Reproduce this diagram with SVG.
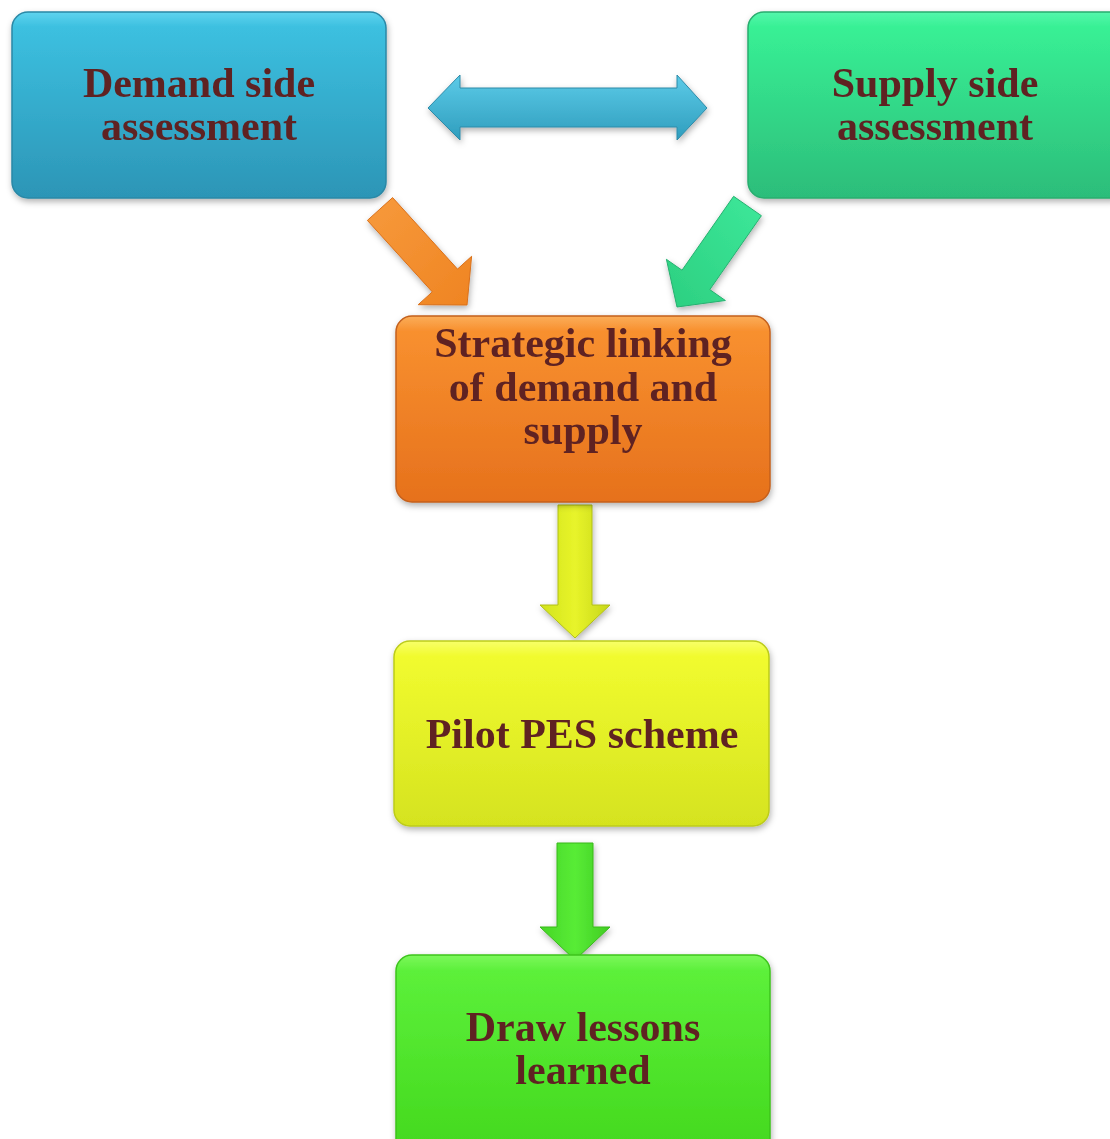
<svg xmlns="http://www.w3.org/2000/svg" width="1110" height="1139" viewBox="0 0 1110 1139">
<style>
.lbl{font-family:"Liberation Serif","Times New Roman",serif;font-weight:bold;font-size:42px;fill:#5f2423;text-anchor:middle}
.box{filter:url(#sh)}
.box rect{stroke-width:1.5}
</style>
<defs>
<filter id="sh" x="-10%" y="-10%" width="125%" height="130%">
<feDropShadow dx="1" dy="3" stdDeviation="3" flood-color="#000" flood-opacity="0.3"/>
</filter>
<linearGradient id="gBlue" x1="0" y1="0" x2="0" y2="1"><stop offset="0" stop-color="#5fd4ef"/><stop offset="0.08" stop-color="#3cc0e0"/><stop offset="1" stop-color="#2c95b6"/></linearGradient>
<linearGradient id="gTeal" x1="0" y1="0" x2="0" y2="1"><stop offset="0" stop-color="#55f7ac"/><stop offset="0.08" stop-color="#38f095"/><stop offset="1" stop-color="#2cbd7a"/></linearGradient>
<linearGradient id="gOrange" x1="0" y1="0" x2="0" y2="1"><stop offset="0" stop-color="#fbae5a"/><stop offset="0.08" stop-color="#f8902f"/><stop offset="1" stop-color="#e6711c"/></linearGradient>
<linearGradient id="gYellow" x1="0" y1="0" x2="0" y2="1"><stop offset="0" stop-color="#f8ff6a"/><stop offset="0.08" stop-color="#f1fb2f"/><stop offset="1" stop-color="#d5e31f"/></linearGradient>
<linearGradient id="gGreen" x1="0" y1="0" x2="0" y2="1"><stop offset="0" stop-color="#7cf85c"/><stop offset="0.08" stop-color="#5cf03a"/><stop offset="1" stop-color="#43d81d"/></linearGradient>
<linearGradient id="aBlue" x1="0" y1="0" x2="0" y2="1"><stop offset="0" stop-color="#5ccbe8"/><stop offset="1" stop-color="#2f9dbd"/></linearGradient>
<linearGradient id="aOrange" x1="0" y1="0" x2="1" y2="1"><stop offset="0" stop-color="#f79a3c"/><stop offset="1" stop-color="#ef8422"/></linearGradient>
<linearGradient id="aTeal" x1="1" y1="0" x2="0" y2="1"><stop offset="0" stop-color="#3de89a"/><stop offset="1" stop-color="#2ccf80"/></linearGradient>
<linearGradient id="aYellow" x1="0" y1="0" x2="1" y2="0"><stop offset="0" stop-color="#d2e31c"/><stop offset="0.5" stop-color="#e8f42a"/><stop offset="1" stop-color="#c6d61a"/></linearGradient>
<linearGradient id="aGreen" x1="0" y1="0" x2="1" y2="0"><stop offset="0" stop-color="#46d626"/><stop offset="0.5" stop-color="#58ec36"/><stop offset="1" stop-color="#40cc22"/></linearGradient>
</defs>
<g id="connectors" filter="url(#sh)">
<polygon points="428,108 460,75 460,88 677,88 677,75 707,108 677,140 677,127 460,127 460,140" fill="url(#aBlue)" stroke="#2d8aa8" stroke-width="1"/>
<polygon points="392.6,197.6 457.5,269.1 471.6,256.3 467,305 418.2,304.7 432.3,291.9 367.4,220.4" fill="url(#aOrange)" stroke="#d9701a" stroke-width="1"/>
<polygon points="733.6,196.3 761.4,215.7 709.8,289.6 725.4,300.5 677,307 666.4,259.3 682,270.2" fill="url(#aTeal)" stroke="#27b070" stroke-width="1"/>
<polygon points="558,505 592,505 592,605 610,605 575,638 540,605 558,605" fill="url(#aYellow)" stroke="#b0be16" stroke-width="1"/>
<polygon points="557,843 593,843 593,927 610,927 575,960 540,927 557,927" fill="url(#aGreen)" stroke="#38b81c" stroke-width="1"/>
</g>
<g id="demand" class="box">
<rect x="12" y="12" width="374" height="186" rx="16" fill="url(#gBlue)" stroke="#2a88a6"/>
<text class="lbl" x="199" y="97">Demand side</text>
<text class="lbl" x="199" y="140">assessment</text>
</g>
<g id="supply" class="box">
<rect x="748" y="12" width="380" height="186" rx="16" fill="url(#gTeal)" stroke="#29ad6f"/>
<text class="lbl" x="935" y="97">Supply side</text>
<text class="lbl" x="935" y="140">assessment</text>
</g>
<g id="strategic" class="box">
<rect x="396" y="316" width="374" height="186" rx="16" fill="url(#gOrange)" stroke="#c4601c"/>
<text class="lbl" x="583" y="357">Strategic linking</text>
<text class="lbl" x="583" y="401">of demand and</text>
<text class="lbl" x="583" y="444">supply</text>
</g>
<g id="pilot" class="box">
<rect x="394" y="641" width="375" height="185" rx="16" fill="url(#gYellow)" stroke="#bccb1a"/>
<text class="lbl" x="582" y="748">Pilot PES scheme</text>
</g>
<g id="lessons" class="box">
<rect x="396" y="955" width="374" height="200" rx="16" fill="url(#gGreen)" stroke="#3cc41c"/>
<text class="lbl" x="583" y="1041">Draw lessons</text>
<text class="lbl" x="583" y="1084">learned</text>
</g>
</svg>
